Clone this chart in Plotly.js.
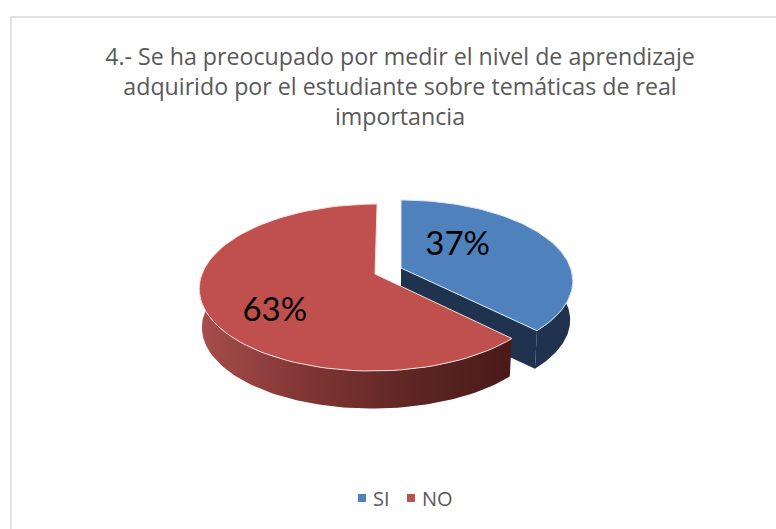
<!DOCTYPE html>
<html><head><meta charset="utf-8">
<script src="https://cdn.plot.ly/plotly-3.0.1.min.js"></script>
<style>html,body{margin:0;padding:0;background:#fff}#c{width:776px;height:529px}</style>
</head><body><div id="c"></div>
<script>
const titleText = '4.- Se ha preocupado por medir el nivel de aprendizaje<br>adquirido por el estudiante sobre temáticas de real<br>importancia';
const categories = ['SI', 'NO'];
const values = [37, 63];
const topColors = ['#4f81bd', '#c0504d'];
const wallColors = ['#1f334f', '#1f334f'];
const apexX = [401, 375];
const apexY = [268, 274];
const vanishX = [401, 390];
const radiusX = [169.5, 173];
const radiusY = [79, 81.3];
const labelTheta = [51, 230];
const labelRadius = [0.45, 0.693];

const P = 0.162, DEPTH = 39, SHRINK = 0.985, VIEW_SKEW = 1.5;
const total = values.reduce((a, b) => a + b, 0);
const rad = d => d * Math.PI / 180;

function project(i, thetaDeg, r, bottom) {
  const s = bottom ? SHRINK : 1;
  const u = Math.sin(rad(thetaDeg)) * r, v = Math.cos(rad(thetaDeg)) * r;
  const w = 1 + P * v;
  const x = vanishX[i] + (apexX[i] - vanishX[i] + s * radiusX[i] * u) / w;
  const y = apexY[i] - s * radiusY[i] * v / w + (bottom ? DEPTH : 0);
  return [x, y];
}
function arc(i, a, b, bottom) {
  const pts = [], n = 90;
  for (let k = 0; k <= n; k++) pts.push(project(i, a + (b - a) * k / n, 1, bottom));
  return pts;
}
function poly(pts, extra) {
  return Object.assign({
    x: pts.map(p => p[0]), y: pts.map(p => p[1]), mode: 'lines', type: 'scatter',
    fill: 'toself', showlegend: false, hoverinfo: 'skip'
  }, extra);
}

const blueEnd = values[0] / total * 360 + VIEW_SKEW;
const traces = [];
const edge = {width: 0};

// Blue slice: walls first, top surface after.
traces.push(poly([project(0, 0, 0, false), project(0, blueEnd, 1, false), project(0, blueEnd, 1, true), project(0, 0, 0, true)],
  {fillcolor: wallColors[0], line: edge}));
traces.push(poly(arc(0, 70, blueEnd, false).concat(arc(0, blueEnd, 70, true)),
  {fillcolor: wallColors[1], line: edge}));
traces.push(poly([project(0, 0, 0, false)].concat(arc(0, 0, blueEnd, false), [project(0, 0, 0, false)]),
  {fillcolor: topColors[0], line: {color: '#dfe8f3', width: 1}}));

// Red slice: outer wall with its gradient, then top surface.
traces.push(poly(arc(1, blueEnd, 272, false).concat(arc(1, 272, blueEnd, true)), {
  line: edge,
  fillgradient: {type: 'horizontal', colorscale: [[0, '#a64e4b'], [0.35, '#7f3533'], [0.7, '#5c2523'], [1, '#4a1a18']]}
}));
traces.push(poly([project(1, 0, 0, false)].concat(arc(1, blueEnd, 360, false), [project(1, 0, 0, false)]),
  {fillcolor: topColors[1], line: {color: '#f3dede', width: 1}}));

// Percent labels
const lp = categories.map((c, i) => project(i, labelTheta[i], labelRadius[i], false));
traces.push({
  type: 'scatter', mode: 'text', x: lp.map(p => p[0]), y: lp.map(p => p[1]),
  text: values.map(v => Math.round(v / total * 100) + '%'),
  textposition: 'middle center', textfont: {family: 'Lato, sans-serif', size: 33, color: '#000'},
  showlegend: false, hoverinfo: 'skip'
});

// Legend entries
categories.forEach((c, i) => traces.push({
  type: 'scatter', mode: 'markers', x: [null], y: [null], name: c,
  marker: {symbol: 'square', size: 8, color: topColors[i]}
}));

Plotly.newPlot('c', traces, {
  width: 776, height: 529, margin: {l: 0, r: 0, t: 0, b: 0},
  paper_bgcolor: '#fff', plot_bgcolor: '#fff',
  xaxis: {range: [0, 776], visible: false, fixedrange: true},
  yaxis: {range: [529, 0], visible: false, fixedrange: true},
  title: {text: titleText, x: 400 / 776, xanchor: 'center', y: 1 - 65 / 529, yanchor: 'top',
    font: {family: '"Open Sans", sans-serif', size: 23.2, color: '#595959'}},
  showlegend: true,
  legend: {orientation: 'h', x: 342 / 776, xanchor: 'left', y: 1 - 498 / 529, yanchor: 'middle',
    entrywidth: 4, entrywidthmode: 'pixels',
    font: {family: '"Open Sans", sans-serif', size: 20, color: '#595959'}, itemwidth: 30, bgcolor: 'rgba(0,0,0,0)'},
  shapes: [
    {type: 'line', xref: 'x', yref: 'y', x0: 11, y0: 17, x1: 776, y1: 17, line: {color: '#d9d9d9', width: 1.5}, layer: 'below'},
    {type: 'line', xref: 'x', yref: 'y', x0: 11, y0: 17, x1: 11, y1: 529, line: {color: '#d9d9d9', width: 1.5}, layer: 'below'}
  ]
}, {displayModeBar: false, responsive: false}).then(() => {
  // Tighten the gap between legend swatch and legend text; let the narrow legend box show all of its text.
  document.querySelectorAll('#c .legendtext').forEach(t => t.setAttribute('x', +t.getAttribute('x') - 9));
  document.querySelectorAll('#c .legend, #c .legend *').forEach(n => { n.removeAttribute('clip-path'); n.style.clipPath = 'none'; });
});
</script></body></html>
